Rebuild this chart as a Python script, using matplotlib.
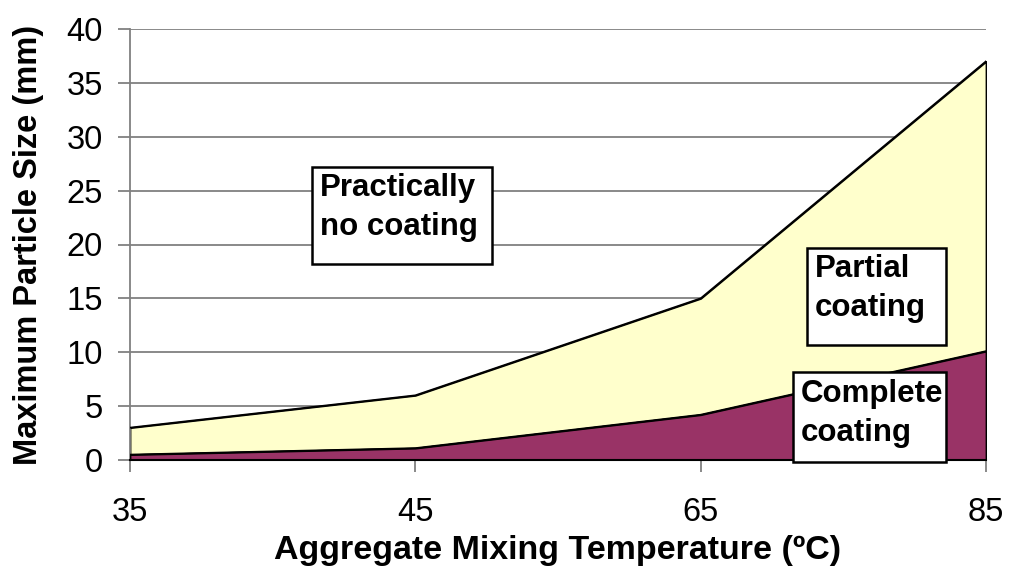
import matplotlib
matplotlib.use("Agg")
import matplotlib.pyplot as plt
from matplotlib.patches import Rectangle

temps = ["35", "45", "65", "85"]
complete_coating = [0.5, 1.1, 4.2, 10.1]
partial_top = [3.0, 6.0, 15.0, 37.0]
y_ticks = [0, 5, 10, 15, 20, 25, 30, 35, 40]

plt.rcParams['font.family'] = ['Liberation Sans', 'DejaVu Sans']

fig = plt.figure(figsize=(10.11, 5.66), dpi=100)
ax = fig.add_axes([130/1011, 1-460/566, 856/1011, 431/566])

x = list(range(len(temps)))
ax.fill_between(x, complete_coating, partial_top, facecolor="#FFFFCC", edgecolor="black", linewidth=1.3, zorder=2)
ax.fill_between(x, 0, complete_coating, facecolor="#993366", edgecolor="black", linewidth=1.3, zorder=3)
ax.plot(x, partial_top, color="black", lw=1.3, zorder=4)
ax.plot(x, complete_coating, color="black", lw=1.3, zorder=4)

ax.set_xlim(0, 3)
ax.set_ylim(0, 40)
ax.set_yticks(y_ticks)
ax.set_xticks(x)
ax.set_xticklabels(temps)
ax.yaxis.grid(True, color="#808080", lw=1.3, zorder=0)
ax.set_axisbelow(True)
for s in ["top", "right"]:
    ax.spines[s].set_visible(False)
ax.spines["left"].set_color("#808080")
ax.spines["left"].set_linewidth(1.3)
ax.spines["bottom"].set_color("black")
ax.spines["bottom"].set_linewidth(1.5)
ax.spines["bottom"].set_zorder(5)
ax.tick_params(axis="y", direction="out", length=8.6, width=1.3, color="#808080", labelsize=23.5, pad=11)
ax.tick_params(axis="x", direction="out", length=8.6, width=1.3, color="#808080", labelsize=23.5, pad=18)

ax.set_xlabel("Aggregate Mixing Temperature (ºC)", fontsize=24.5, fontweight="bold", labelpad=5)
ax.set_ylabel("Maximum Particle Size (mm)", fontsize=23.5, fontweight="bold", labelpad=16)

def box(x0, y0, x1, y1, lines):
    # pixel coords converted to figure fraction
    r = Rectangle((x0/1011, 1-y1/566), (x1-x0)/1011, (y1-y0)/566, transform=fig.transFigure,
                  facecolor="white", edgecolor="black", lw=1.8, zorder=10)
    fig.patches.append(r)
    for i, (t, yc) in enumerate(lines):
        fig.text((x0+8)/1011, 1-(yc+1)/566, t, fontsize=22.5, fontweight="bold", va="center", ha="left", zorder=11)

box(312, 167, 492, 264, [("Practically", 187), ("no coating", 226)])
box(807, 248, 946, 345, [("Partial", 268), ("coating", 307)])
box(793, 372, 946, 462, [("Complete", 393), ("coating", 432)])

fig.savefig("out.png", dpi=100)
